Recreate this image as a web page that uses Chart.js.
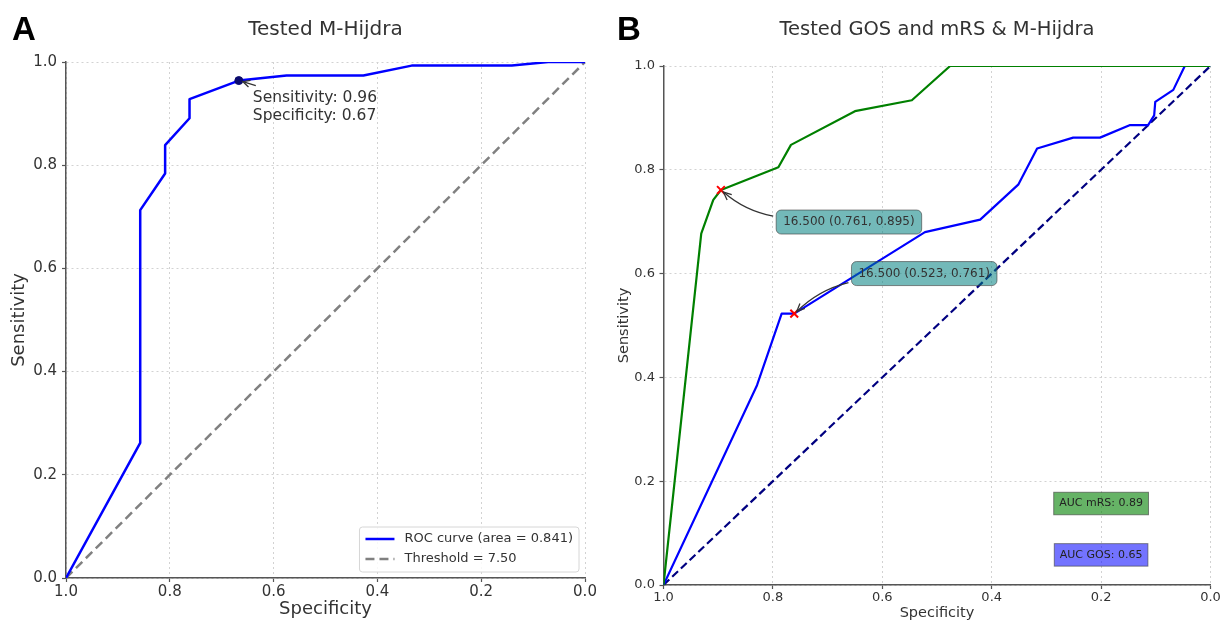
<!DOCTYPE html>
<html>
<head>
<meta charset="utf-8">
<script src="https://cdn.jsdelivr.net/npm/chart.js@4.4.1/dist/chart.umd.min.js"></script>
<style>
  html, body { margin: 0; padding: 0; background: #fff; }
  #wrap { position: relative; width: 1224px; height: 623px; }
  canvas { position: absolute; top: 0; }
  #chartA { left: 0; }
  #chartB { left: 612px; }
</style>
</head>
<body>
<div id="wrap">
  <canvas id="chartA" width="612" height="623" style="width:612px;height:623px"></canvas>
  <canvas id="chartB" width="612" height="623" style="width:612px;height:623px"></canvas>
</div>
<script>
// ---- A: M-Hijdra ROC ----
const specA = [1.0, 0.857, 0.857, 0.809, 0.809, 0.762, 0.762, 0.667, 0.575, 0.427, 0.334, 0.141, 0.071, 0.0];
const sensA = [0.0, 0.262, 0.713, 0.784, 0.839, 0.891, 0.928, 0.964, 0.974, 0.974, 0.993, 0.993, 1.0, 1.0];
const aucA = 0.841;
const thresholdA = 7.50;
const cutSpecA = 0.667;
const cutSensA = 0.964;

// ---- B: GOS / mRS ROC ----
const specMRS = [1.0, 0.931, 0.909, 0.895, 0.790, 0.767, 0.650, 0.546, 0.476, 0.0];
const sensMRS = [0.0, 0.677, 0.742, 0.761, 0.805, 0.848, 0.913, 0.934, 1.0, 1.0];
const specGOS = [1.0, 0.829, 0.784, 0.761, 0.522, 0.421, 0.351, 0.317, 0.251, 0.202, 0.148, 0.114, 0.103, 0.101, 0.068, 0.047, 0.0];
const sensGOS = [0.0, 0.385, 0.523, 0.523, 0.680, 0.704, 0.772, 0.841, 0.862, 0.862, 0.886, 0.886, 0.905, 0.931, 0.954, 1.0, 1.0];
const aucMRS = 0.89;
const aucGOS = 0.65;
const cutThreshold = [16.5, 16.5];      // mRS, GOS
const cutSpecB = [0.895, 0.761];
const cutSensB = [0.761, 0.523];

// chance line
const diagX = [1.0, 0.0];
const diagY = [0.0, 1.0];

const fontFamily = '"DejaVu Sans", sans-serif';

function toPoints(xs, ys) {
  return xs.map((v, i) => ({ x: v, y: ys[i] }));
}

// shared axis setup, sizes differ per panel
function axisOptions(cfg) {
  const grid = { color: '#d2d2d2', lineWidth: 1, drawTicks: true, tickLength: 4, tickColor: '#555', tickWidth: 1.2, tickBorderDash: [] };
  const border = { display: true, color: '#555', width: 1.5, dash: [2, 3] };
  const ticks = { stepSize: 0.2, color: '#333', font: { family: fontFamily, size: cfg.tickSize }, callback: v => v.toFixed(1) };
  return {
    x: {
      type: 'linear', min: 0, max: 1, reverse: true,
      ticks: Object.assign({}, ticks, { padding: 1, maxRotation: 0 }),
      grid: grid, border: border,
      title: { display: true, text: 'Specificity', color: '#333', font: { family: fontFamily, size: cfg.labelSize }, padding: 0 },
      afterFit(scale) { scale.height = cfg.xHeight; }
    },
    y: {
      type: 'linear', min: 0, max: 1,
      ticks: Object.assign({}, ticks, { padding: cfg.yPad }),
      grid: grid, border: border,
      title: { display: true, text: 'Sensitivity', color: '#333', font: { family: fontFamily, size: cfg.labelSize }, padding: 0 },
      afterFit(scale) { scale.width = cfg.yWidth; }
    }
  };
}

// open "->" arrow, optionally bent like an arc
function drawArrow(ctx, x0, y0, x1, y1, bend, headLen, headW) {
  const dx = x1 - x0, dy = y1 - y0;
  const cx = (x0 + x1) / 2 + bend * dy;
  const cy = (y0 + y1) / 2 - bend * dx;
  ctx.save();
  ctx.strokeStyle = '#333';
  ctx.lineWidth = 1.3;
  ctx.beginPath();
  ctx.moveTo(x0, y0);
  ctx.quadraticCurveTo(cx, cy, x1, y1);
  ctx.stroke();
  const ang = Math.atan2(y1 - cy, x1 - cx);
  ctx.beginPath();
  ctx.moveTo(x1 - headLen * Math.cos(ang) - headW * Math.sin(ang), y1 - headLen * Math.sin(ang) + headW * Math.cos(ang));
  ctx.lineTo(x1, y1);
  ctx.lineTo(x1 - headLen * Math.cos(ang) + headW * Math.sin(ang), y1 - headLen * Math.sin(ang) - headW * Math.cos(ang));
  ctx.stroke();
  ctx.restore();
}

function drawHeader(ctx, chartArea, title, titleSize, letter, letterX) {
  ctx.save();
  ctx.fillStyle = '#333';
  ctx.font = `${titleSize}px ${fontFamily}`;
  ctx.textAlign = 'center';
  ctx.textBaseline = 'alphabetic';
  ctx.fillText(title, (chartArea.left + chartArea.right) / 2, 35);
  ctx.fillStyle = '#000';
  ctx.font = 'bold 33px "Liberation Sans", Arial, sans-serif';
  ctx.textAlign = 'left';
  ctx.fillText(letter, letterX, 40);
  ctx.restore();
}

// title, cut-off note and legend for panel A
const panelA = {
  id: 'panelA',
  afterDraw(chart) {
    const { ctx, chartArea, scales: { x, y } } = chart;
    drawHeader(ctx, chartArea, 'Tested M-Hijdra', 20, 'A', 12);

    const px = x.getPixelForValue(cutSpecA);
    const py = y.getPixelForValue(cutSensA);
    ctx.save();
    ctx.fillStyle = '#333';
    ctx.font = `15.5px ${fontFamily}`;
    ctx.textBaseline = 'middle';
    ctx.fillText(`Sensitivity: ${cutSensA.toFixed(2)}`, px + 14, py + 17);
    ctx.fillText(`Specificity: ${cutSpecA.toFixed(2)}`, px + 14, py + 35);
    ctx.restore();
    drawArrow(ctx, px + 17, py + 5, px + 4, py + 1, 0, 7, 3.5);

    // legend box, lower right
    const items = chart.data.datasets.filter(d => d.showLine);
    ctx.save();
    ctx.font = `13px ${fontFamily}`;
    const textW = Math.max(...items.map(d => ctx.measureText(d.label).width));
    const pad = 6, lineLen = 29, gap = 10, rowH = 20;
    const w = pad + lineLen + gap + textW + pad;
    const h = rowH * items.length + 5;
    const bx = chartArea.right - 6 - w;
    const by = chartArea.bottom - 6 - h;
    ctx.beginPath();
    ctx.roundRect(bx, by, w, h, 3);
    ctx.fillStyle = 'rgba(255,255,255,0.85)';
    ctx.fill();
    ctx.strokeStyle = '#d6d6d6';
    ctx.lineWidth = 1;
    ctx.stroke();
    items.forEach((d, i) => {
      const ry = by + 12 + i * rowH;
      ctx.beginPath();
      ctx.setLineDash(d.borderDash || []);
      ctx.strokeStyle = d.borderColor;
      ctx.lineWidth = d.borderWidth;
      ctx.moveTo(bx + pad, ry);
      ctx.lineTo(bx + pad + lineLen, ry);
      ctx.stroke();
      ctx.setLineDash([]);
      ctx.fillStyle = '#333';
      ctx.textBaseline = 'middle';
      ctx.fillText(d.label, bx + pad + lineLen + gap, ry);
    });
    ctx.restore();
  }
};

// title, cut-off boxes and AUC boxes for panel B
const panelB = {
  id: 'panelB',
  afterDraw(chart) {
    const { ctx, chartArea, scales: { x, y } } = chart;
    drawHeader(ctx, chartArea, 'Tested GOS and mRS & M-Hijdra', 19.5, 'B', 5);

    // box offset from its marker, arrow bend
    const boxOffset = [[128, 32], [130, -40]];
    const bends = [0.14, -0.14];
    ctx.save();
    ctx.font = `12px ${fontFamily}`;
    cutSpecB.forEach((s, i) => {
      const mx = x.getPixelForValue(s);
      const my = y.getPixelForValue(cutSensB[i]);
      const text = `${cutThreshold[i].toFixed(3)} (${cutSensB[i].toFixed(3)}, ${s.toFixed(3)})`;
      const tw = ctx.measureText(text).width;
      const cx = mx + boxOffset[i][0];
      const cy = my + boxOffset[i][1];
      const bw = tw + 14, bh = 24;
      const sy = i === 0 ? cy - 6 : cy + 9;
      drawArrow(ctx, cx - bw / 2 - 3, sy, mx + 2.5 * Math.sign(cx - mx), my + 2 * Math.sign(sy - my), bends[i], 8, 3.5);
      ctx.beginPath();
      ctx.roundRect(cx - bw / 2, cy - bh / 2, bw, bh, 5);
      ctx.fillStyle = 'rgba(0,128,128,0.55)';
      ctx.fill();
      ctx.strokeStyle = 'rgba(60,60,60,0.6)';
      ctx.lineWidth = 1;
      ctx.stroke();
      ctx.fillStyle = '#333';
      ctx.textAlign = 'center';
      ctx.textBaseline = 'middle';
      ctx.fillText(text, cx, cy);
    });

    // AUC notes, centred on (0.2, 0.15) and (0.2, 0.05)
    const aucNotes = [
      { text: `AUC mRS: ${aucMRS.toFixed(2)}`, sens: 0.157, fill: 'rgba(0,128,0,0.6)' },
      { text: `AUC GOS: ${aucGOS.toFixed(2)}`, sens: 0.058, fill: 'rgba(0,0,255,0.55)' }
    ];
    ctx.font = `11px ${fontFamily}`;
    aucNotes.forEach(n => {
      const cx = x.getPixelForValue(0.2);
      const cy = y.getPixelForValue(n.sens);
      const bw = ctx.measureText(n.text).width + 11, bh = 22.5;
      ctx.fillStyle = n.fill;
      ctx.fillRect(cx - bw / 2, cy - bh / 2, bw, bh);
      ctx.strokeStyle = 'rgba(60,60,60,0.6)';
      ctx.lineWidth = 1;
      ctx.strokeRect(cx - bw / 2, cy - bh / 2, bw, bh);
      ctx.fillStyle = '#222';
      ctx.textAlign = 'center';
      ctx.textBaseline = 'middle';
      ctx.fillText(n.text, cx, cy);
    });
    ctx.restore();
  }
};

const lineStyle = { showLine: true, pointRadius: 0, fill: false, tension: 0, borderJoinStyle: 'round' };

new Chart(document.getElementById('chartA'), {
  type: 'scatter',
  data: {
    datasets: [
      { label: 'cut-off', data: [{ x: cutSpecA, y: cutSensA }], showLine: false, pointRadius: 4,
        pointBackgroundColor: '#0a0a6e', pointBorderColor: '#0a0a6e' },
      Object.assign({ label: `ROC curve (area = ${aucA.toFixed(3)})`, data: toPoints(specA, sensA),
        borderColor: 'blue', borderWidth: 2.5 }, lineStyle),
      Object.assign({ label: `Threshold = ${thresholdA.toFixed(2)}`, data: toPoints(diagX, diagY),
        borderColor: 'gray', borderWidth: 2.5, borderDash: [9, 5] }, lineStyle)
    ]
  },
  options: {
    responsive: false,
    animation: false,
    layout: { padding: { left: 9, right: 27, top: 62, bottom: 3 } },
    plugins: { legend: { display: false }, tooltip: { enabled: false } },
    scales: axisOptions({ tickSize: 15, labelSize: 18, xHeight: 42, yWidth: 57, yPad: 5 })
  },
  plugins: [panelA]
});

new Chart(document.getElementById('chartB'), {
  type: 'scatter',
  data: {
    datasets: [
      { label: 'cut-offs', data: toPoints(cutSpecB, cutSensB), showLine: false, pointStyle: 'crossRot',
        pointRadius: 5.5, borderColor: 'red', pointBorderWidth: 2 },
      Object.assign({ label: 'mRS', data: toPoints(specMRS, sensMRS), borderColor: 'green', borderWidth: 2.2 }, lineStyle),
      Object.assign({ label: 'GOS', data: toPoints(specGOS, sensGOS), borderColor: 'blue', borderWidth: 2.2 }, lineStyle),
      Object.assign({ label: 'chance', data: toPoints(diagX, diagY), borderColor: 'navy', borderWidth: 2.2,
        borderDash: [8, 4] }, lineStyle)
    ]
  },
  options: {
    responsive: false,
    animation: false,
    layout: { padding: { left: 4, right: 13.5, top: 66, bottom: 1 } },
    plugins: { legend: { display: false }, tooltip: { enabled: false } },
    scales: axisOptions({ tickSize: 13, labelSize: 14.5, xHeight: 37, yWidth: 47.5, yPad: 4.5 })
  },
  plugins: [panelB]
});
</script>
</body>
</html>
